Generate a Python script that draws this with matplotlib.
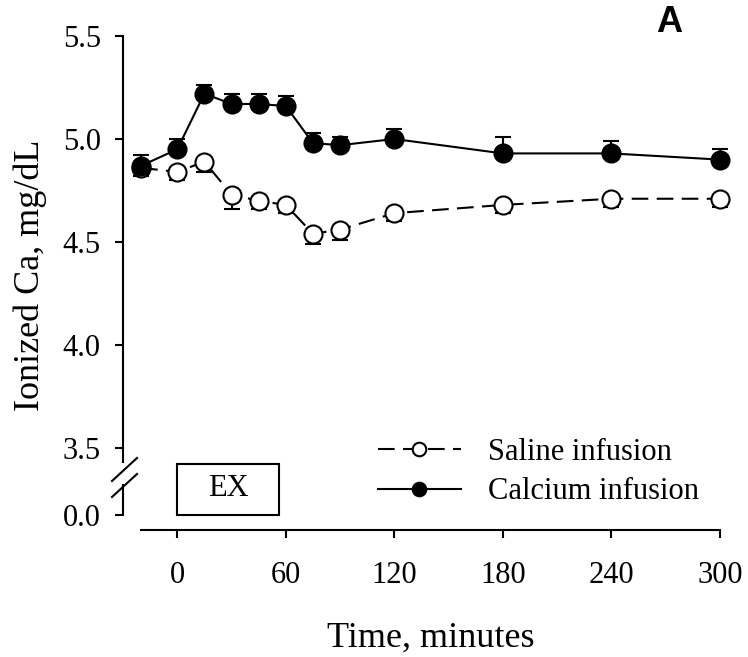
import matplotlib
matplotlib.use("Agg")
import matplotlib.pyplot as plt
from matplotlib import ticker
from matplotlib.patches import Rectangle

TIME = [-20, 0, 15, 30, 45, 60, 75, 90, 120, 180, 240, 300]
CALCIUM = [4.87, 4.95, 5.22, 5.17, 5.17, 5.16, 4.98, 4.97, 5.00, 4.93, 4.93, 4.90]
CALCIUM_ERR = [0.05, 0.05, 0.04, 0.05, 0.05, 0.05, 0.05, 0.04, 0.05, 0.08, 0.06, 0.05]
SALINE = [4.86, 4.84, 4.89, 4.73, 4.70, 4.68, 4.54, 4.56, 4.64, 4.68, 4.71, 4.71]
SALINE_ERR = [0.04, 0.04, 0.05, 0.07, 0.04, 0.04, 0.05, 0.05, 0.04, 0.04, 0.04, 0.04]
X_TICKS = [0, 60, 120, 180, 240, 300]
Y_TICKS = [3.5, 4.0, 4.5, 5.0, 5.5]

W, H = 748, 657
SERIF = "Liberation Serif"


def fx(px):
    return px / W


def fy(py):
    return 1 - py / H


def main():
    plt.rcParams["font.family"] = SERIF
    fig = plt.figure(figsize=(W / 100, H / 100), dpi=100)

    left, right = fx(123), fx(720)
    ax = fig.add_axes([left, fy(462), right - left, fy(36) - fy(462)])
    axb = fig.add_axes([left, fy(530), right - left, fy(462) - fy(530)])

    lw = 1.5
    eb_s = ax.errorbar(
        TIME, SALINE, yerr=[SALINE_ERR, [0] * len(SALINE_ERR)],
        color="black", linestyle=(0, (8, 4)), linewidth=lw,
        marker="o", markersize=13, markerfacecolor="white",
        markeredgecolor="black", markeredgewidth=1.5,
        capsize=6, capthick=1.8, elinewidth=1.5, zorder=3,
        label="Saline infusion",
    )
    eb_c = ax.errorbar(
        TIME, CALCIUM, yerr=[[0] * len(CALCIUM_ERR), CALCIUM_ERR],
        color="black", linestyle="-", linewidth=lw,
        marker="o", markersize=13, markerfacecolor="black",
        markeredgecolor="black", markeredgewidth=1.5,
        capsize=6, capthick=1.8, elinewidth=1.5, zorder=4,
        label="Calcium infusion",
    )
    for eb in (eb_s, eb_c):
        for artist in eb.get_children():
            artist.set_clip_on(False)

    ax.set_xlim(-30, 300)
    axb.set_xlim(-30, 300)
    y_top = 5.5
    scale = 206.0
    ax.set_ylim(y_top - (462 - 36) / scale, y_top)
    axb.set_ylim(-(530 - 515) / scale, (515 - 462) / scale)

    for a in (ax, axb):
        a.spines["top"].set_visible(False)
        a.spines["right"].set_visible(False)
        a.spines["left"].set_linewidth(1.5)
        a.spines["bottom"].set_linewidth(1.5)
        a.tick_params(axis="both", direction="out", length=6, width=1.5,
                      labelsize=22, color="black")
        a.tick_params(axis="y", pad=10)
        a.tick_params(axis="x", pad=16)

    ax.spines["bottom"].set_visible(False)
    ax.tick_params(axis="x", bottom=False, labelbottom=False)
    ax.yaxis.set_major_locator(ticker.FixedLocator(Y_TICKS))
    ax.yaxis.set_major_formatter(ticker.FormatStrFormatter("%.1f"))

    axb.patch.set_visible(False)
    axb.spines["left"].set_bounds(0, (515 - 485) / scale)
    axb.spines["bottom"].set_bounds(-20, 300)
    axb.yaxis.set_major_locator(ticker.FixedLocator([0.0]))
    axb.yaxis.set_major_formatter(ticker.FormatStrFormatter("%.1f"))
    axb.xaxis.set_major_locator(ticker.FixedLocator(X_TICKS))

    # axis break marks
    for y0, y1 in ((481, 458), (497, 474)):
        fig.add_artist(plt.Line2D([fx(112), fx(137)], [fy(y0), fy(y1)],
                                  color="black", linewidth=1.5))

    # EX box
    axb.add_patch(Rectangle((0, 0), 56, (515 - 464) / scale, fill=False,
                            edgecolor="black", linewidth=1.5, clip_on=False))
    axb.text(28, (515 - 489) / scale, "EX", ha="center", va="center",
             fontsize=22)

    fig.legend(
        handles=[eb_s.lines[0], eb_c.lines[0]],
        labels=["Saline infusion", "Calcium infusion"],
        loc="center left", bbox_to_anchor=(fx(378), fy(472)),
        frameon=False, fontsize=22, handlelength=2.7, handletextpad=0.9,
        labelspacing=0.35, borderpad=0, borderaxespad=0, markerscale=0.75,
    )

    fig.text(fx(431), fy(647), "Time, minutes", ha="center", va="baseline",
             fontsize=26)
    fig.text(fx(30), fy(275), "Ionized Ca, mg/dL", ha="center", va="center",
             rotation=90, fontsize=26)
    fig.text(fx(669), fy(23), "A", ha="center", va="center", fontsize=26,
             fontweight="bold", family="Liberation Sans")

    fig.savefig("out.png", dpi=100)


if __name__ == "__main__":
    main()
